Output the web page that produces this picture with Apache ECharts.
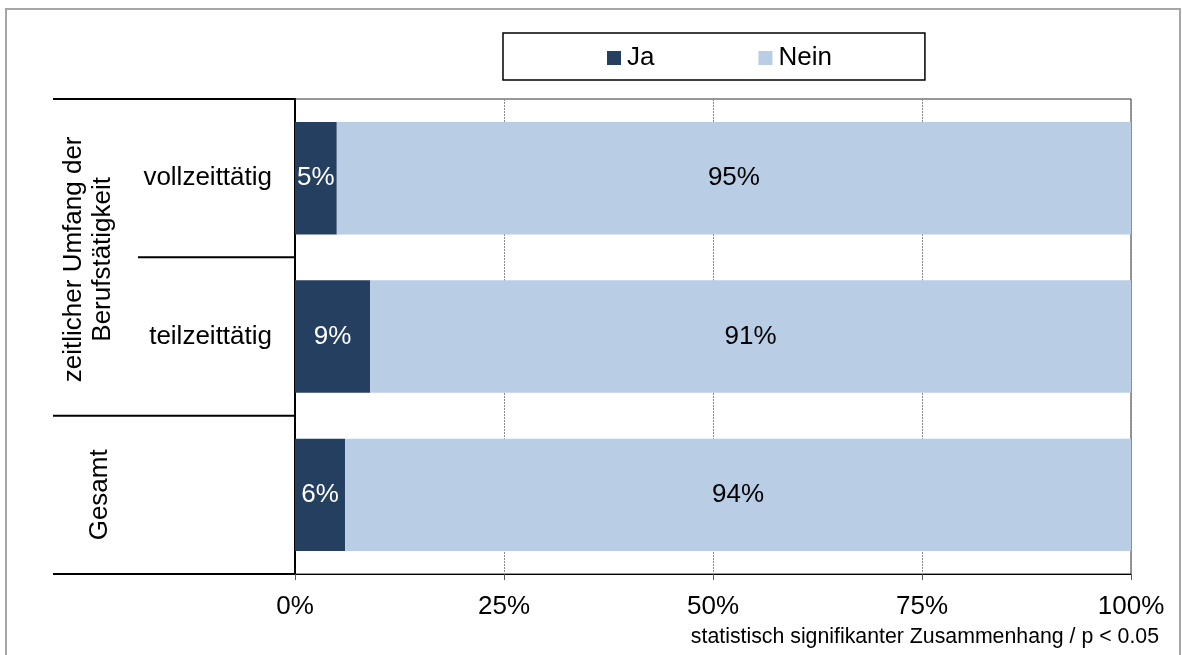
<!DOCTYPE html>
<html>
<head>
<meta charset="utf-8">
<script src="https://cdn.jsdelivr.net/npm/echarts@6/dist/echarts.min.js"></script>
<style>
  html, body { margin: 0; padding: 0; background: #ffffff; }
  #chart { width: 1182px; height: 655px; }
</style>
</head>
<body>
<div id="chart"></div>
<script>
// Kategorien (von oben nach unten) und Anteile in Prozent
const categories = ['vollzeittätig', 'teilzeittätig', 'Gesamt'];
const seriesNames = ['Ja', 'Nein'];
const jaValues = [5, 9, 6];
const neinValues = [95, 91, 94];
const xTicks = [0, 25, 50, 75, 100];
const groupLabel = 'zeitlicher Umfang der\nBerufstätigkeit';
const footnote = 'statistisch signifikanter Zusammenhang / p < 0.05';

const FONT = '"Liberation Sans", Arial, sans-serif';
const FS = 26;
const COLOR_JA = '#243F60';
const COLOR_NEIN = '#B9CDE5';

const chart = echarts.init(document.getElementById('chart'), null, { renderer: 'canvas' });

const option = {
  animation: false,
  backgroundColor: '#ffffff',
  textStyle: { fontFamily: FONT },
  grid: {
    left: 295, right: 51, top: 99, bottom: 81,
    show: true, borderColor: '#303030', borderWidth: 1,
    containLabel: false
  },
  legend: {
    data: seriesNames,
    left: 503, top: 33,
    padding: [12, 93, 9, 104],
    itemGap: 104,
    itemWidth: 14, itemHeight: 14,
    icon: 'rect',
    borderColor: '#000000', borderWidth: 1.5,
    backgroundColor: '#ffffff',
    textStyle: { fontFamily: FONT, fontSize: FS, color: '#000000', padding: [0, 0, 0, 1] }
  },
  xAxis: {
    type: 'value',
    min: xTicks[0], max: xTicks[xTicks.length - 1],
    interval: xTicks[1] - xTicks[0],
    axisLine: { show: true, lineStyle: { color: '#000000', width: 1 } },
    axisTick: { show: true, length: 6, lineStyle: { color: '#555555' } },
    axisLabel: {
      formatter: '{value}%', margin: 20,
      fontFamily: FONT, fontSize: FS, color: '#000000'
    },
    splitLine: { show: true, lineStyle: { color: '#8a8a8a', type: [2, 1], width: 1 } }
  },
  yAxis: {
    type: 'category',
    data: categories,
    inverse: true,
    axisLine: { show: true, lineStyle: { color: '#000000', width: 2 } },
    axisTick: { show: false },
    axisLabel: {
      margin: 23,
      fontFamily: FONT, fontSize: FS, color: '#000000',
      formatter: (v) => (v === 'Gesamt' ? '' : v)
    }
  },
  series: [
    {
      name: seriesNames[0], type: 'bar', stack: 'gesamt',
      data: jaValues, barWidth: '71%',
      itemStyle: { color: COLOR_JA },
      label: {
        show: true, position: 'inside', formatter: '{c}%',
        fontFamily: FONT, fontSize: FS, color: '#ffffff'
      }
    },
    {
      name: seriesNames[1], type: 'bar', stack: 'gesamt',
      data: neinValues, barWidth: '71%',
      itemStyle: { color: COLOR_NEIN },
      label: {
        show: true, position: 'inside', formatter: '{c}%',
        fontFamily: FONT, fontSize: FS, color: '#000000'
      }
    }
  ]
};

chart.setOption(option);

// Tabellenlinien und Gruppenbeschriftung links der Achse, aus den Achsenpositionen abgeleitet
const axisX = chart.convertToPixel({ xAxisIndex: 0 }, 0);
const centers = categories.map((c) => chart.convertToPixel({ yAxisIndex: 0 }, c));
const band = centers[1] - centers[0];
const bounds = [centers[0] - band / 2].concat(centers.map((c) => c + band / 2));

const lineStyle = { stroke: '#000000', lineWidth: 2 };
const hLine = (x1, y) => ({
  type: 'line', silent: true,
  shape: { x1: x1, y1: y, x2: axisX, y2: y },
  style: lineStyle
});

chart.setOption({
  graphic: [
    // Rahmen um die gesamte Grafik
    {
      type: 'rect', silent: true, z: -1,
      shape: { x: 6, y: 9, width: 1174, height: 660 },
      style: { fill: 'none', stroke: '#a6a6a6', lineWidth: 2 }
    },
    hLine(53, bounds[0]),
    hLine(138, bounds[1]),
    hLine(53, bounds[2]),
    hLine(53, bounds[3]),
    {
      type: 'text', silent: true,
      x: 88, y: (bounds[0] + bounds[2]) / 2 + 2,
      rotation: Math.PI / 2,
      style: {
        text: groupLabel, font: FS + 'px ' + FONT, fill: '#000000',
        align: 'center', verticalAlign: 'middle', lineHeight: 29
      }
    },
    {
      type: 'text', silent: true,
      x: 100, y: centers[2],
      rotation: Math.PI / 2,
      style: {
        text: categories[2], font: FS + 'px ' + FONT, fill: '#000000',
        align: 'center', verticalAlign: 'middle'
      }
    },
    {
      type: 'text', silent: true,
      x: 1159, y: 637,
      style: {
        text: footnote, font: '21.3px ' + FONT, fill: '#000000',
        align: 'right', verticalAlign: 'middle'
      }
    }
  ]
});
</script>
</body>
</html>
